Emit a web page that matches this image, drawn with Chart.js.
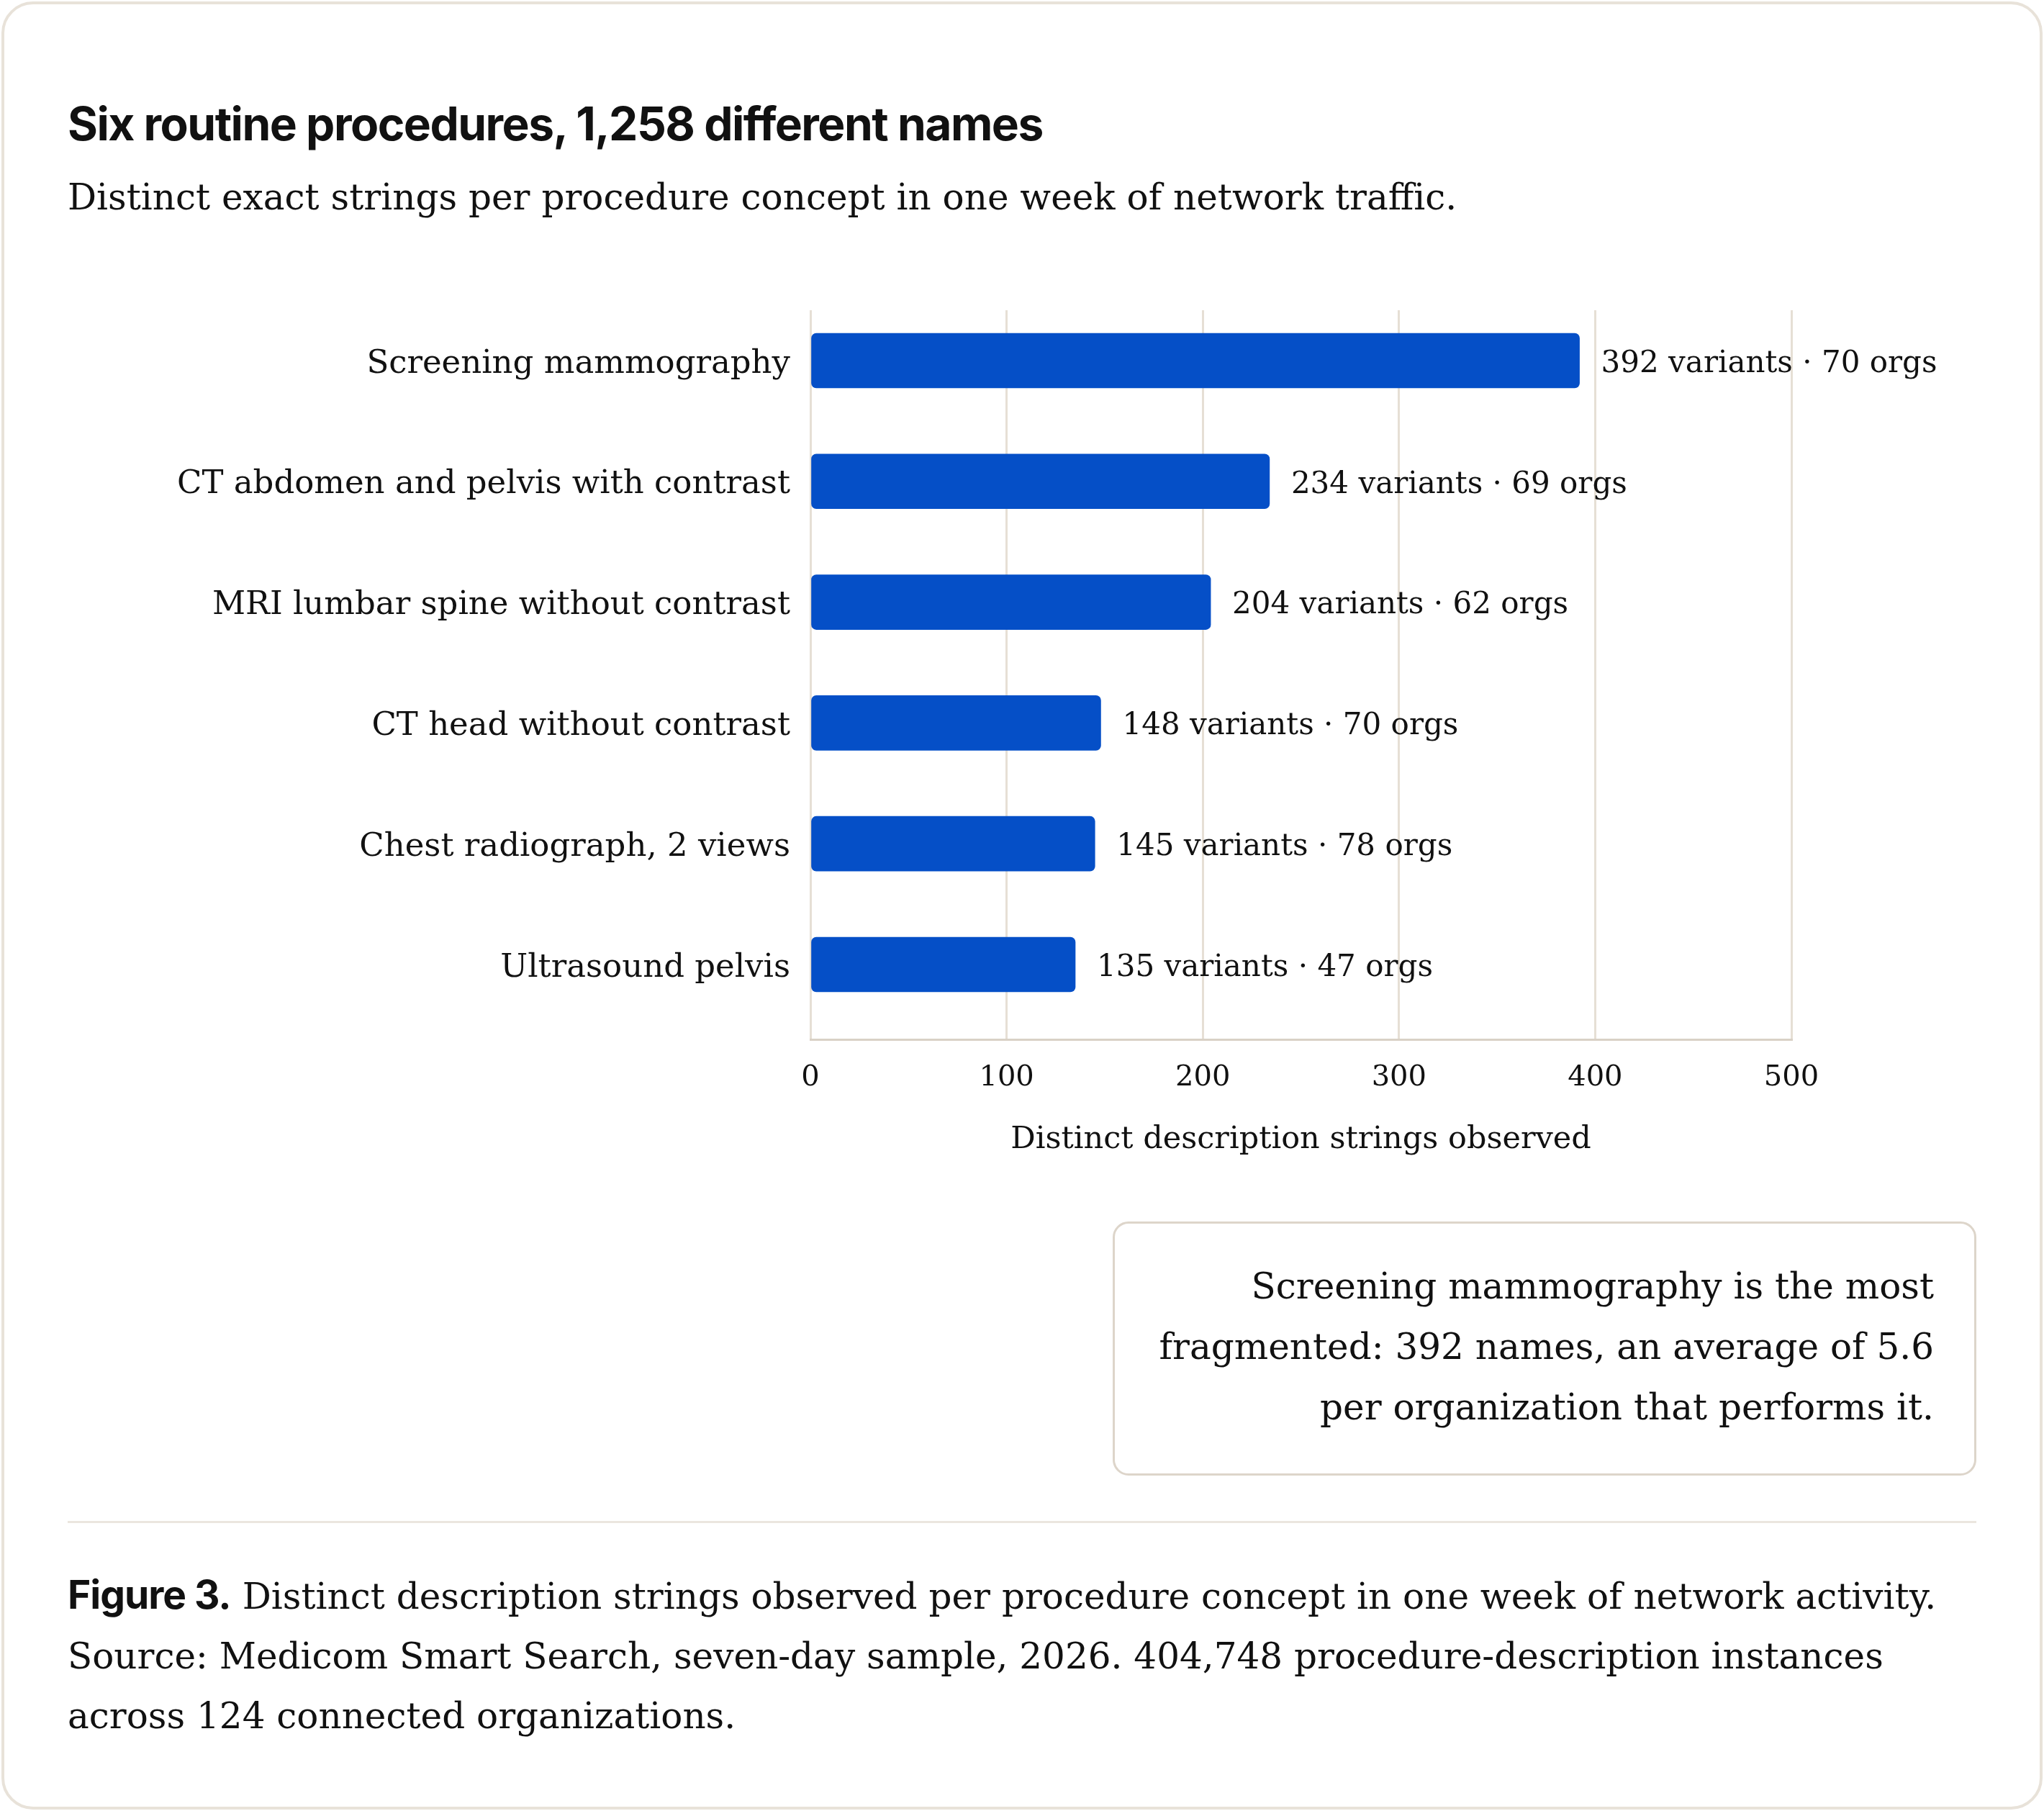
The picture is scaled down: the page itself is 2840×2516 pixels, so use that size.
<!DOCTYPE html>
<html>
<head>
<meta charset="utf-8">
<title>Six routine procedures, 1,258 different names</title>
<script src="https://cdn.jsdelivr.net/npm/chart.js@4.4.1/dist/chart.umd.min.js"></script>
<style>
  html, body { margin: 0; padding: 0; background: #fff; }
  body { width: 2840px; height: 2516px; position: relative; overflow: hidden; color: #111; }
  .card {
    position: absolute; left: 2px; top: 2px; width: 2836px; height: 2512px;
    box-sizing: border-box; border: 4px solid #e8e2d9; border-radius: 44px; background: #fff;
  }
  .title {
    position: absolute; left: 94px; top: 140px; white-space: nowrap;
    font: 700 64px/1 Inter, sans-serif; letter-spacing: -1.5px;
  }
  .subtitle {
    position: absolute; left: 94px; top: 249px; white-space: nowrap;
    font: 400 50px/1 "DejaVu Serif", serif;
  }
  #wrap { position: absolute; left: 94px; top: 400px; width: 2652px; height: 1210px; }
  .note {
    position: absolute; left: 1546px; top: 1697px; width: 1200px; height: 353px;
    box-sizing: border-box; border: 3px solid #ddd5ca; border-radius: 22px;
    display: flex; align-items: center; justify-content: flex-end;
    padding-right: 56px; padding-bottom: 6px;
    font: 400 50px/84px "DejaVu Serif", serif; text-align: right; white-space: nowrap;
  }
  .rule { position: absolute; left: 94px; top: 2113px; width: 2652px; height: 3px; background: #ebe6df; }
  .caption {
    position: absolute; left: 94px; top: 2177px; white-space: nowrap;
    font: 400 50px/83px "DejaVu Serif", serif;
  }
  .caption b { font: 700 55px Inter, sans-serif; letter-spacing: -1px; }
</style>
</head>
<body>
<div class="card"></div>
<div class="title">Six routine procedures, 1,258 different names</div>
<div class="subtitle">Distinct exact strings per procedure concept in one week of network traffic.</div>
<div id="wrap"><canvas id="chart" width="2652" height="1210"></canvas></div>
<div class="note"><div>Screening mammography is the most<br>fragmented: 392 names, an average of 5.6<br>per organization that performs it.</div></div>
<div class="rule"></div>
<div class="caption"><b>Figure 3.</b> Distinct description strings observed per procedure concept in one week of network activity.<br>Source: Medicom Smart Search, seven-day sample, 2026. 404,748 procedure-description instances<br>across 124 connected organizations.</div>

<script>
const procedures = [
    "Screening mammography",
    "CT abdomen and pelvis with contrast",
    "MRI lumbar spine without contrast",
    "CT head without contrast",
    "Chest radiograph, 2 views",
    "Ultrasound pelvis"
];
const variants = [392, 234, 204, 148, 145, 135];
const orgs = [70, 69, 62, 70, 78, 47];
const xTicks = [0, 100, 200, 300, 400, 500];
const xTitle = "Distinct description strings observed";

const serif = "DejaVu Serif";
const ink = "#111111";

// writes "392 variants · 70 orgs" just past the end of each bar
const valueLabels = {
    id: "valueLabels",
    afterDatasetsDraw(chart) {
        const ctx = chart.ctx;
        const meta = chart.getDatasetMeta(0);
        ctx.save();
        ctx.font = `42px "${serif}"`;
        ctx.fillStyle = ink;
        ctx.textAlign = "left";
        ctx.textBaseline = "middle";
        meta.data.forEach((bar, i) => {
            ctx.fillText(`${variants[i]} variants · ${orgs[i]} orgs`, bar.x + 30, bar.y + 5);
        });
        ctx.restore();
    }
};

new Chart(document.getElementById("chart"), {
    type: "bar",
    data: {
        datasets: [{
            data: variants.map((v, i) => ({ x: v, y: i })),
            backgroundColor: "#054fc7",
            borderRadius: 7,
            borderSkipped: false,
            barThickness: 76
        }]
    },
    options: {
        indexAxis: "y",
        responsive: false,
        devicePixelRatio: 1,
        animation: false,
        layout: { padding: { top: 31, right: 257, bottom: 0, left: 0 } },
        plugins: { legend: { display: false }, tooltip: { enabled: false } },
        scales: {
            x: {
                type: "linear",
                min: 0,
                max: 500,
                afterBuildTicks: s => { s.ticks = xTicks.map(v => ({ value: v })); },
                afterFit: s => { s.height = 166; },
                grid: { color: "#e6dfd5", lineWidth: 3, drawTicks: false },
                border: { display: true, color: "#d9d1c6", width: 3 },
                ticks: { color: ink, font: { family: serif, size: 40 }, padding: 30 },
                title: {
                    display: true,
                    text: xTitle,
                    color: ink,
                    font: { family: serif, size: 43, lineHeight: 1.2 },
                    padding: 0
                }
            },
            y: {
                type: "linear",
                reverse: true,
                offset: false,
                min: -0.417,
                max: 5.62,
                afterBuildTicks: s => { s.ticks = procedures.map((p, i) => ({ value: i })); },
                afterFit: s => {
                    s.width = 1032;
                    s.paddingTop = 0;
                    s.paddingBottom = 0;
                },
                grid: { display: false },
                border: { display: false },
                ticks: {
                    color: ink,
                    font: { family: serif, size: 45 },
                    padding: 20,
                    labelOffset: 5,
                    callback: v => procedures[v]
                }
            }
        }
    },
    plugins: [valueLabels]
});
</script>
</body>
</html>
